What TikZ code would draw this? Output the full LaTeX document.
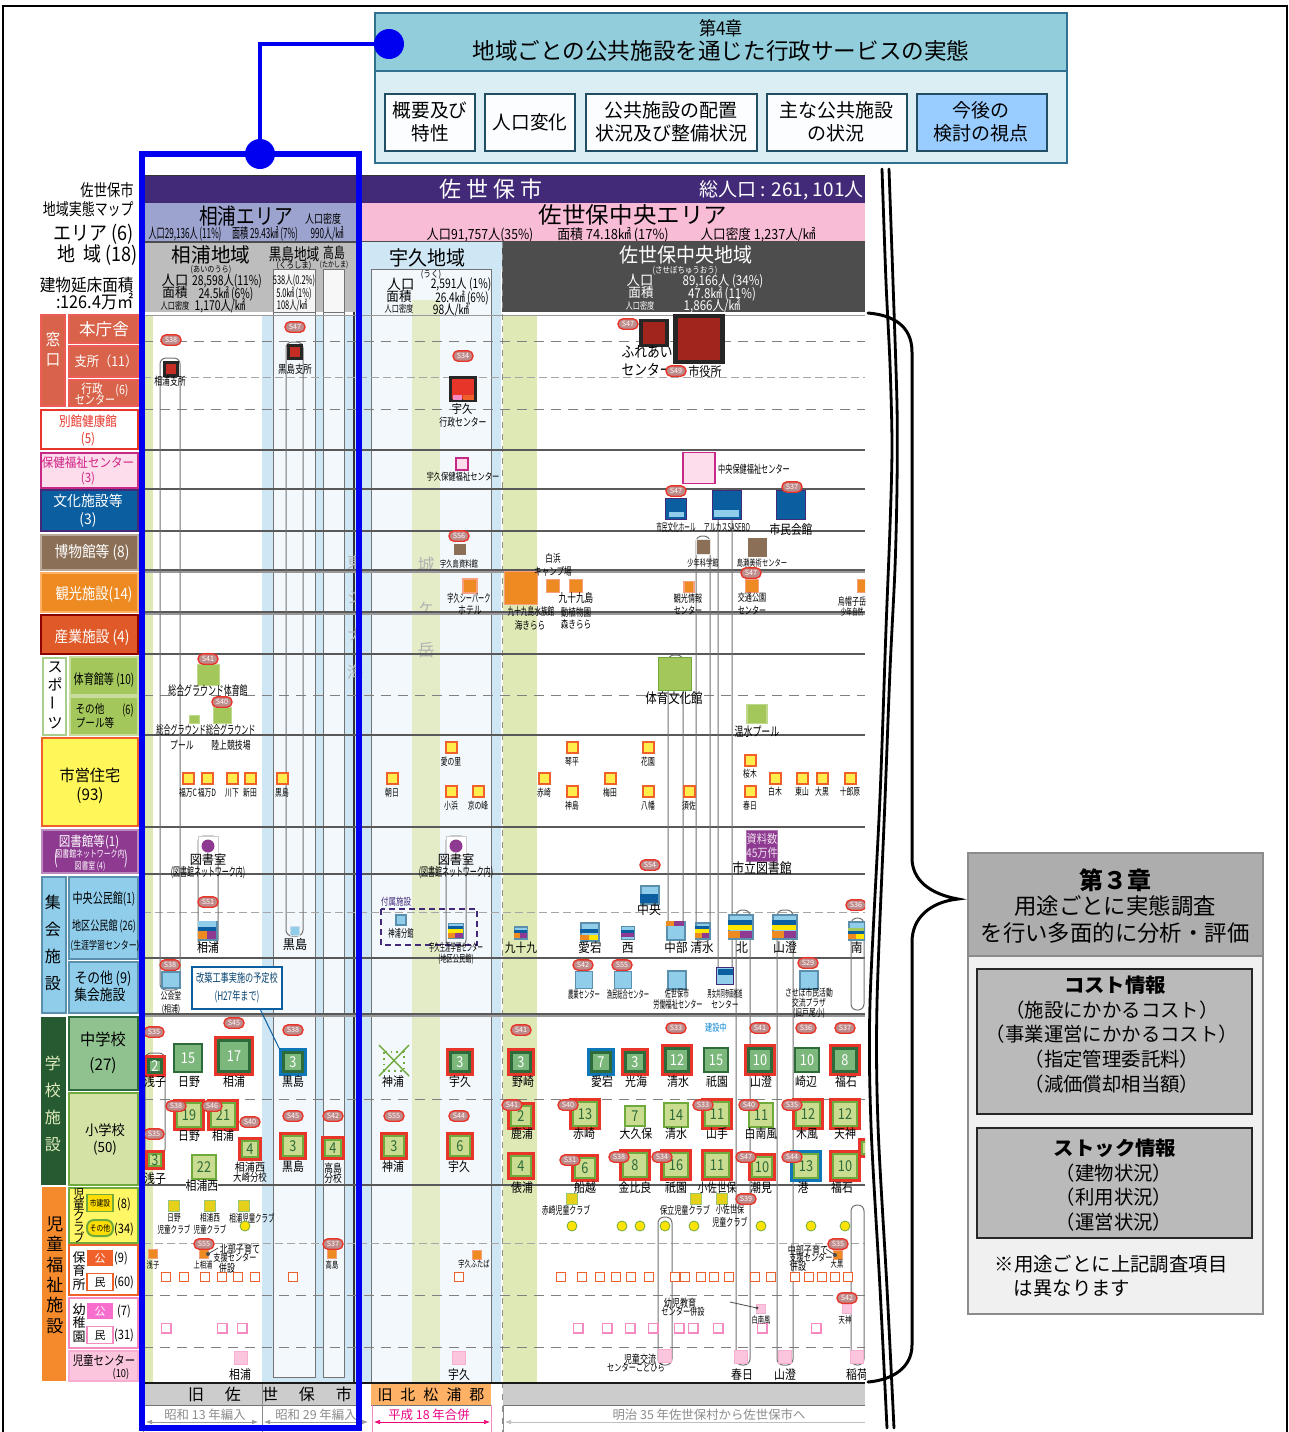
\documentclass[tikz,border=0pt]{standalone}
\usepackage{graphicx}
\usepackage{fontspec}
\setmainfont{Noto Sans CJK JP}
\usetikzlibrary{arrows.meta}
\definecolor{hdr}{HTML}{92CDDC}\definecolor{hdrb}{HTML}{DAEEF3}\definecolor{teal}{HTML}{31708F}
\definecolor{bluey}{HTML}{0000F0}
\definecolor{purp}{HTML}{432A78}\definecolor{areab}{HTML}{9DA3CF}\definecolor{areap}{HTML}{F9BCD6}
\definecolor{grayh}{HTML}{BDBDBD}\definecolor{dgray}{HTML}{4D4D4D}\definecolor{lblue}{HTML}{CFE7F5}
\definecolor{lgreen}{HTML}{DFE9B5}\definecolor{pale}{HTML}{F3F8FC}\definecolor{ukug}{HTML}{E3ECC6}
\definecolor{mfill}{HTML}{7CB77B}\definecolor{mbord}{HTML}{2D6B3A}\definecolor{efill}{HTML}{C9DC8F}\definecolor{ebord}{HTML}{6FAB3C}
\definecolor{rd}{HTML}{E8352A}\definecolor{bl}{HTML}{0F77B8}\definecolor{kb}{HTML}{5B8FAE}\definecolor{kl}{HTML}{8FCDEB}\definecolor{kd}{HTML}{0B5FA0}
\definecolor{korg}{HTML}{EE8A22}\definecolor{kpur}{HTML}{8E3A91}\definecolor{kyel}{HTML}{FFE600}\definecolor{kgrn}{HTML}{A4C75B}
\definecolor{orgb}{HTML}{F0602A}\definecolor{pnkb}{HTML}{F58AC0}\definecolor{pnkf}{HTML}{FBC6DD}
\definecolor{mus}{HTML}{8B6F56}\definecolor{wnd}{HTML}{D9634A}\definecolor{sang}{HTML}{DF5A28}\definecolor{jido}{HTML}{F48A2C}
\newcounter{lb}
\newcommand\lab[6][]{\stepcounter{lb}\node[inner sep=0pt,yshift=-.13*#4 pt,#1] (n\thelb) at (#2,#3) {\fontsize{#4}{\dimexpr#4pt*12/10\relax}\selectfont\scalebox{#5}[1]{\begin{tabular}{@{}c@{}}#6\end{tabular}}};}
\newcommand\bx[5]{\stepcounter{lb}\node[#1,minimum width=#4*.5pt,minimum height=#5*.5pt,inner sep=0pt] (b\thelb) at (#2,#3) {};}
\newcommand\bdg[3]{\stepcounter{lb}\node[draw=rd,fill=white!60!red!50!gray,line width=.7pt,rounded corners=2.5pt,minimum width=10pt,minimum height=5.2pt,inner sep=0pt,text=white] (g\thelb) at (#1,#2) {\fontsize{3.6}{4}\selectfont #3};}
\newcommand\jhs[5]{\stepcounter{lb}\ifx#4n\else\node[draw=#4,line width=1.6pt,fill=mfill,minimum size=#3*.5pt-1.6pt,inner sep=0pt] (o\thelb) at (#1,#2) {};\fi
\node[draw=mbord,line width=1.2pt,fill=mfill,minimum size=#3*.5pt-\ifx#4n 1.2pt\else 4.6pt\fi,inner sep=0pt,text=white] (i\thelb) at (#1,#2) {\fontsize{7.5}{8}\selectfont\scalebox{.85}[1]{#5}};}
\newcommand\els[5]{\stepcounter{lb}\ifx#4n\else\node[draw=#4,line width=1.6pt,fill=efill,minimum size=#3*.5pt-1.6pt,inner sep=0pt] (o\thelb) at (#1,#2) {};\fi
\node[draw=ebord,line width=1pt,fill=efill,minimum size=#3*.5pt-\ifx#4n 1pt\else 4.2pt\fi,inner sep=0pt,text=mbord] (i\thelb) at (#1,#2) {\fontsize{7.5}{8}\selectfont\scalebox{.85}[1]{#5}};}
\newcommand\kom[5]{\stepcounter{lb}\node[draw=kb,fill=kl,line width=.8pt,minimum width=#3*.5pt,minimum height=#4*.5pt,inner sep=0pt] (k\thelb) at (#1,#2) {};
\begin{scope}[shift={(k\thelb.north west)},x=#3*.5pt,y=-#4*.5pt]#5\end{scope}}
\newcommand\st[5]{\fill[#1] (#2,#3) rectangle (#4,#5);}
\tikzset{
 house/.style={draw=orgb,fill=kyel!70!white,line width=1pt},
 hollowo/.style={draw=orgb,fill=white,line width=.8pt},
 hollowp/.style={draw=pnkb,fill=white,line width=.9pt},
 bigp/.style={draw=pnkb!70!white,fill=pnkf,line width=.7pt},
 clubs/.style={draw=ebord!70!white,fill=kyel!80!gray,line width=.6pt},
 orgs/.style={draw=orgb!60!white,fill=korg,line width=.8pt},
 caps/.style={draw=black!55,line width=.5pt,rounded corners=3pt},
 solidrow/.style={draw=black!65,line width=.6pt},
 dashrow/.style={draw=black!50,line width=.45pt,dash pattern=on 5pt off 3.5pt},
 leg/.style={line width=.7pt},
 subb/.style={draw=teal!70!black,line width=.6pt},
 bluestroke/.style={draw=bluey,line width=2.6pt},
 blk/.style={draw=black,line width=1.4pt,line cap=round},
}
\begin{document}
\begin{tikzpicture}[x=.5pt,y=-.5pt,font=\fontsize{6}{7}\selectfont]
\useasboundingbox (0,0) rectangle (1289,1432);
\fill[white] (0,0) rectangle (1289,1432);
\draw[black,line width=.8pt] (3,1432) -- (3,6) -- (1287,6) -- (1287,1432);
% ---------- chapter 4 box
\draw[teal,fill=hdr,line width=.6pt] (375,13) rectangle (1067,71);
\draw[teal,fill=hdrb,line width=.6pt] (375,71) rectangle (1067,163);
\lab{721}{28}{9.5}{.9}{第4章}
\lab{721}{51}{11.3}{1}{地域ごとの公共施設を通じた行政サービスの実態}
\draw[subb,fill=white!90!hdrb] (385,94) rectangle (475,151);
\draw[subb,fill=white!90!hdrb] (485,94) rectangle (575,151);
\draw[subb,fill=white!90!hdrb] (586,94) rectangle (757,151);
\draw[subb,fill=white!90!hdrb] (767,94) rectangle (907,151);
\definecolor{nextb}{HTML}{99CCFF}
\draw[subb,fill=nextb] (917,94) rectangle (1047,151);
\lab{430}{122}{9.5}{.98}{概要及び\\特性}
\lab{530}{122}{9.5}{.98}{人口変化}
\lab{671}{122}{9.5}{1}{公共施設の配置\\状況及び整備状況}
\lab{836}{122}{9.5}{1}{主な公共施設\\の状況}
\lab{981}{122}{9.5}{1}{今後の\\検討の視点}
% ---------- left title
\lab[anchor=east]{134}{190}{8.3}{.8}{佐世保市}
\lab[anchor=east]{134}{209}{8.3}{.78}{地域実態マップ}
\lab[anchor=east]{134}{233}{10}{.9}{エリア (6)}
\lab[anchor=east]{138}{254}{10}{.9}{地\ \ 域 (18)}
\lab[anchor=east]{134}{285}{8.5}{.92}{建物延床面積}
\lab[anchor=east]{134}{302}{8.8}{.92}{:126.4万㎡}
% ---------- legend column
\draw[leg,fill=wnd,draw=rd!80!white] (41,315) rectangle (65,406);
\draw[leg,fill=wnd,draw=rd!80!white] (69,315) rectangle (138,343);
\draw[leg,fill=wnd,draw=rd!80!white] (69,346) rectangle (138,377);
\draw[leg,fill=wnd,draw=rd!80!white] (69,380) rectangle (138,406);
\lab[text=white]{53}{340}{8}{.9}{窓}\lab[text=white]{53}{360}{8}{.9}{口}
\lab[text=white]{104}{329}{8.3}{1}{本庁舎}
\lab[text=white]{106}{361}{6.8}{.9}{支所（11）}
\lab[text=white]{92}{389}{6.3}{.85}{行政}\lab[text=white]{95}{400}{6.3}{.8}{センター}\lab[text=white]{122}{390}{6.3}{.85}{(6)}
\draw[leg,fill=white,draw=rd] (41,410) rectangle (138,449);
\lab[text=rd]{88}{430}{6.8}{.85}{別館健康館\\(5)}
\draw[leg,fill=pnkf!60!white,draw=magenta!80!black] (41,453) rectangle (138,488);
\lab[text=magenta!85!black]{88}{470}{6.4}{.9}{保健福祉センター\\(3)}
\draw[leg,fill=kd,draw=purp] (41,490) rectangle (138,531);
\lab[text=white]{88}{510}{7.3}{.95}{文化施設等\\(3)}
\draw[leg,fill=mus,draw=mus!60!white] (41,535) rectangle (138,570);
\lab[text=white]{92}{552}{7.8}{.88}{博物館等 (8)}
\draw[leg,fill=korg,draw=orange!60!white] (41,573) rectangle (138,612);
\lab[text=white]{94}{594}{7.8}{.85}{観光施設(14)}
\draw[leg,fill=sang,draw=red!55!black] (41,615) rectangle (138,654);
\lab[text=white]{92}{637}{7.8}{.88}{産業施設 (4)}
\draw[leg,fill=white,draw=ebord!60!white] (43,658) rectangle (66,735);
\lab{55}{695}{7.5}{1}{ス\\ポ\\\rotatebox{90}{ー}\\ツ}
\draw[leg,fill=kgrn,draw=kgrn!60!white] (70,657) rectangle (138,695);
\draw[leg,fill=kgrn,draw=kgrn!60!white] (70,697) rectangle (138,735);
\lab{104}{679}{7}{.72}{体育館等 (10)}
\lab{90}{709}{6}{.8}{その他}\lab{95}{723}{6}{.8}{プール等}\lab{128}{710}{6.5}{.7}{(6)}
\draw[leg,fill=yellow!65!white,draw=orgb,line width=1pt] (42,738) rectangle (138,826);
\lab{90}{785}{8}{.95}{市営住宅\\(93)}
\draw[leg,fill=kpur,draw=kpur!60!white] (42,830) rectangle (138,873);
\lab[text=white]{89}{841}{6.8}{.85}{図書館等(1)}
\lab[text=white]{90}{860}{4.8}{.72}{図書館ネットワーク内\\図書室 (4)}
\lab[text=white]{56}{858}{9}{.6}{(}\lab[text=white]{126}{858}{9}{.6}{)}
\draw[leg,fill=kl,draw=kb] (42,877) rectangle (66,1013);
\lab{53}{943}{8}{1}{集\\[4pt]会\\[4pt]施\\[4pt]設}
\draw[leg,fill=kl,draw=kb] (69,877) rectangle (138,959);
\draw[leg,fill=kl,draw=kb] (69,962) rectangle (138,1013);
\lab{104}{898}{7}{.72}{中央公民館(1)}
\lab{104}{926}{6.5}{.7}{地区公民館 (26)}
\lab{105}{945}{5.5}{.72}{(生涯学習センター)}
\lab{103}{978}{7.5}{.85}{その他 (9)}\lab{100}{995}{7.5}{.85}{集会施設}
\fill[mbord!85!black] (41,1017) rectangle (66,1185);
\lab[text=efill!60!white]{53}{1104}{8}{1}{学\\[4pt]校\\[4pt]施\\[4pt]設}
\draw[leg,fill=mfill!85!white,draw=mbord] (69,1017) rectangle (138,1090);
\lab{103}{1052}{8}{.95}{中学校\\[3pt](27)}
\draw[leg,fill=efill!80!white,draw=ebord] (69,1093) rectangle (138,1185);
\lab{105}{1139}{7}{.95}{小学校\\(50)}
\fill[jido] (42,1187) rectangle (66,1381);
\lab{55}{1275}{8.5}{1}{児\\童\\福\\祉\\施\\設}
\draw[leg,fill=yellow!60!white,draw=ebord] (69,1188) rectangle (138,1243);
\lab{79}{1216}{6.2}{.9}{児\\[-2pt]童\\[-2pt]ク\\[-2pt]ラ\\[-2pt]ブ}
\bx{draw=ebord,fill=yellow!80!orange,line width=.9pt}{100}{1203}{26}{17}
\lab{100}{1203}{4.2}{.8}{市建設}
\node[draw=ebord,fill=yellow!80!orange,line width=1pt,rounded corners=3.5pt,minimum width=13pt,minimum height=8pt,inner sep=0pt] (oth) at (100,1228) {\fontsize{4.2}{5}\selectfont\scalebox{.8}[1]{その他}};
\lab{124}{1204}{6.5}{.85}{(8)}\lab{124}{1229}{6.5}{.85}{(34)}
\draw[leg,fill=white,draw=orgb,line width=1pt] (69,1245) rectangle (138,1295);
\lab{79}{1271}{6.5}{1}{保\\[-1pt]育\\[-1pt]所}
\bx{fill=orgb}{100}{1258}{26}{16}\lab[text=white]{100}{1258}{5.5}{1}{公}
\bx{draw=orgb,fill=white,line width=.6pt}{100}{1282}{26}{17}\lab{100}{1282}{5.5}{1}{民}
\lab{121}{1258}{6.5}{.85}{(9)}\lab{124}{1282}{6.5}{.85}{(60)}
\draw[leg,fill=white,draw=pnkb,line width=1pt] (69,1298) rectangle (138,1348);
\lab{79}{1323}{6.5}{1}{幼\\[-1pt]稚\\[-1pt]園}
\bx{fill=pnkb!80!magenta}{100}{1311}{26}{16}\lab[text=white]{100}{1311}{5.5}{1}{公}
\bx{draw=pnkb,fill=white,line width=.6pt}{100}{1335}{26}{17}\lab{100}{1335}{5.5}{1}{民}
\lab{124}{1311}{6.5}{.85}{(7)}\lab{124}{1335}{6.5}{.85}{(31)}
\draw[leg,fill=pnkf,draw=pnkb!70!white] (69,1351) rectangle (138,1381);
\lab{104}{1361}{6.5}{.8}{児童センター}\lab{121}{1373}{5.5}{.85}{(10)}
% ---------- main chart, clipped on its right edge
\begin{scope}
\clip (143,170) rectangle (865,1432);
\fill[white] (143,312) rectangle (865,1383);
% bands
\fill[lgreen] (143,315) rectangle (153,1383);
\fill[lblue] (262,315) rectangle (354,1383);
\draw[draw=black!55,fill=pale,line width=.5pt] (273,269) rectangle (315,1377);
\draw[draw=black!55,fill=pale,line width=.5pt] (323,269) rectangle (344,1377);
\fill[lblue] (354,242) rectangle (501,1383);
\draw[draw=black!55,fill=pale,line width=.5pt] (371,269) rectangle (491,1383);
\fill[ukug] (412,300) rectangle (440,1383);
\fill[lgreen] (503,315) rectangle (537,1383);
\draw[black!80,line width=.6pt] (354,242) -- (354,1383);
% header bands
\fill[purp] (143,175) rectangle (865,203);
\draw[black!80,line width=.5pt] (143,175) -- (865,175);
\lab[text=white]{491}{189}{11}{1}{佐 世 保 市}
\lab[text=white,anchor=east]{864}{189}{9.5}{1}{総人口 : 261, 101人}
\fill[areab] (143,203) rectangle (356,242);
\fill[areap] (361,203) rectangle (865,242);
\lab{246}{216}{11}{.85}{相浦エリア}
\lab{323}{219}{6}{.75}{人口密度}
\lab{185}{233}{7}{.58}{人口29,136人 (11\%)}
\lab{265}{233}{7}{.58}{面積 29.43㎢ (7\%)}
\lab{327}{233}{7}{.58}{990人/㎢}
\lab{633}{215}{11.3}{1.04}{佐世保中央エリア}
\lab{480}{234}{7}{.87}{人口91,757人(35\%)}
\lab{613}{234}{7}{.92}{面積 74.18㎢ (17\%)}
\lab{758}{234}{7}{.9}{人口密度 1,237人/㎢}
\fill[grayh] (143,242) rectangle (356,312);
\draw[black!70,line width=.6pt] (143,242) -- (865,242);
\fill[dgray] (502,242) rectangle (865,312);
\fill[lblue] (361,242) rectangle (502,269);
\draw[draw=black!55,fill=white!85!grayh,line width=.5pt] (273,269) rectangle (315,312);
\draw[draw=black!55,fill=white!88!grayh,line width=.5pt] (323,269) rectangle (344,312);
\lab{211}{255}{10}{.98}{相浦地域}
\lab{294}{254}{8.3}{.76}{黒島地域}
\lab{334}{253}{7.5}{.72}{高島}
\lab{211}{269}{4.2}{.85}{(あいのうら)}
\lab{294}{265}{4.4}{.85}{(くろしま)}
\lab{334}{265}{4}{.75}{(たかしま)}
\lab{175}{280}{7}{.95}{人口}\lab{175}{293}{6.6}{.95}{面積}\lab{175}{306}{4.8}{.75}{人口密度}
\lab{227}{280}{6.8}{.76}{28,598人(11\%)}
\lab{226}{293}{6.8}{.76}{24.5㎢ (6\%)}
\lab{220}{305}{6.8}{.76}{1,170人/㎢}
\lab{294}{280}{6}{.62}{538人(0.2\%)}
\lab{294}{293}{6}{.62}{5.0㎢ (1\%)}
\lab{292}{305}{6}{.62}{108人/㎢}
\lab{427}{258}{10}{.95}{宇久地域}
\lab{431}{274}{4.5}{.85}{(うく)}
\lab{401}{284}{7}{.95}{人口}\lab{399}{297}{6.6}{.95}{面積}\lab{399}{309}{4.8}{.75}{人口密度}
\lab{461}{284}{6.6}{.78}{2,591人 (1\%)}
\lab{462}{297}{6.6}{.76}{26.4㎢ (6\%)}
\lab{451}{309}{6.6}{.78}{98人/㎢}
\lab[text=white]{686}{255}{10}{.95}{佐世保中央地域}
\lab[text=white]{685}{270}{4.4}{.85}{(させぼちゅうおう)}
\lab[text=white]{640}{280}{7}{.95}{人口}\lab[text=white]{641}{293}{6.6}{.95}{面積}\lab[text=white]{640}{306}{4.8}{.75}{人口密度}
\lab[text=white]{723}{280}{6.8}{.85}{89,166人 (34\%)}
\lab[text=white]{722}{293}{6.8}{.85}{47.8㎢ (11\%)}
\lab[text=white]{712}{305}{6.8}{.85}{1,866人/㎢}
\draw[black!40,line width=.5pt] (143,315) -- (865,315);
\draw[black!45,line width=.5pt,dashed] (502,242) -- (502,1432);
% sea and mountain names
\foreach \ch/\yy in {東/562,シ/598,ナ/635,海/672}{\node[text=black!30,inner sep=0pt] at (355,\yy) {\fontsize{8}{8}\selectfont\ch};}
\foreach \ch/\yy in {城/565,ヶ/608,岳/650}{\node[text=black!30,inner sep=0pt] at (426,\yy) {\fontsize{8.5}{9}\selectfont\ch};}
% rows
\foreach \yy in {450,489,531,570,612,654,735,827,874,958,1014,1185}{\draw[solidrow] (143,\yy) -- (865,\yy);}
\foreach \yy in {572,614,1016}{\draw[solidrow,draw=black!40] (143,\yy) -- (865,\yy);}
\foreach \yy in {341,409,695,1099,1295,1347}{\draw[dashrow] (143,\yy) -- (865,\yy);}
\foreach \yy in {377,912,1243}{\draw[dashrow,draw=black!35,dash pattern=on 4pt off 2pt] (143,\yy) -- (865,\yy);}
\draw[black!90,line width=.6pt] (143,1383) -- (865,1383);
% capsules
\draw[caps] (160,358) rectangle (180,990);
\draw[caps] (286,342) rectangle (303,936);
\draw[caps] (198,836) rectangle (218,946);
\draw[caps] (446,836) rectangle (466,946);
\draw[caps] (145,1053) rectangle (165,1155);
\draw[caps] (668,655) rectangle (683,928);
\draw[caps] (696,536) rectangle (710,942);
\draw[caps] (718,490) rectangle (732,980);
\draw[caps] (736,910) rectangle (750,1365);
\draw[caps] (777,910) rectangle (793,1365);
\draw[caps] (851,918) rectangle (864,1010);
\draw[caps] (851,1205) rectangle (864,1365);
\draw[caps] (658,1217) rectangle (672,1365);
% window row
\bx{draw=black!85,fill=rd!85!black,line width=1.6pt}{171}{369}{13}{13}
\lab{170}{381}{5.6}{.7}{相浦支所}\bdg{171}{340}{S38}
\bx{draw=black!85,fill=rd!85!black,line width=1.6pt}{295}{352}{13}{13}
\lab{295}{369}{5.6}{.75}{黒島支所}\bdg{295}{327}{S47}
\bx{draw=black!85,fill=rd,line width=1.6pt}{463}{389}{25}{23}
\fill[pnkb] (453,395) rectangle (462,400);\fill[orgb] (463,395) rectangle (474,400);
\lab{462}{409}{6}{.85}{宇久}\lab{463}{422}{5.6}{.7}{行政センター}\bdg{463}{356}{S34}
\bx{draw=black!85,fill=rd!70!black,line width=1.8pt}{654}{333}{26}{25}
\bx{draw=black!85,fill=rd!70!black,line width=2.2pt}{699}{339}{47}{46}
\lab{647}{361}{7.5}{.85}{ふれあい\\センター}\bdg{628}{324}{S47}
\lab{705}{372}{6.5}{.85}{市役所}\bdg{676}{371}{S49}
% health
\bx{draw=magenta!80!black,fill=pnkf!60!white,line width=.9pt}{462}{464}{12}{12}
\lab{463}{477}{5}{.73}{宇久保健福祉センター}
\bx{draw=magenta!80!black,fill=pnkf!60!white,line width=.9pt}{699}{468}{32}{31}
\lab{754}{469}{5.6}{.64}{中央保健福祉センター}
% culture
\bx{draw=purp,fill=kd,line width=.7pt}{676}{509}{21}{21}\fill[kl] (669,512) rectangle (684,517);\lab{676}{527}{5.4}{.52}{市民文化ホール}\bdg{676}{491}{S47}
\bx{draw=purp,fill=kd,line width=.7pt}{727}{505}{29}{29}\fill[kl] (714,510) rectangle (739,517);\lab{727}{527}{5.4}{.55}{アルカスSASEBO}
\bx{draw=purp,fill=kd,line width=.7pt}{791}{505}{29}{29}\lab{791}{530}{6.5}{.82}{市民会館}\bdg{792}{487}{S37}
% museum
\bx{fill=mus}{460}{549}{12}{11}\lab{459}{564}{4.6}{.68}{宇久島資料館}\bdg{459}{536}{S56}
\bx{draw=white!80!gray,fill=mus}{703}{547}{14}{15}\lab{703}{563}{4.6}{.68}{少年科学館}
\bx{fill=mus}{757}{547}{19}{19}\lab{762}{563}{4.6}{.68}{島瀬美術センター}
% tourism
\bx{orgs}{521}{588}{33}{33}\lab{531}{611}{5.4}{.62}{九十九島水族館}\lab{530}{625}{5.4}{.7}{海きらら}
\bx{orgs}{553}{586}{13}{13}\lab{553}{558}{5.4}{.7}{白浜}\lab{553}{571}{5.4}{.7}{キャンプ場}
\bx{orgs}{576}{586}{13}{13}\lab{576}{598}{6}{.72}{九十九島}\lab{576}{612}{5.4}{.7}{動植物園}\lab{576}{624}{5.4}{.7}{森きらら}
\bx{orgs}{689}{587}{10}{11}\lab{688}{599}{5.2}{.68}{観光情報}\lab{688}{611}{5.2}{.68}{センター}
\bx{orgs}{752}{586}{13}{13}\lab{752}{598}{5.2}{.68}{交通公園}\lab{752}{611}{5.2}{.68}{センター}\bdg{751}{573}{S47}
\bx{orgs}{864}{586}{13}{13}\lab{852}{602}{5.2}{.68}{烏帽子岳}\lab{852}{612}{4.6}{.6}{少年自然}
\bx{orgs}{470}{586}{14}{14}\lab{469}{598}{5.6}{.55}{宇久シーパーク}\lab{470}{610}{5.6}{.7}{ホテル}
% sports
\bx{draw=kgrn!70!white,fill=kgrn,line width=.5pt}{208}{675}{22}{21}\lab{208}{691}{6.4}{.62}{総合グラウンド体育館}\bdg{208}{659}{S41}
\bx{draw=kgrn!70!white,fill=kgrn,line width=.5pt}{222}{715}{18}{16}\bdg{222}{702}{S40}
\bx{draw=kgrn!70!white,fill=kgrn,line width=.5pt}{194}{719}{10}{8}
\lab{206}{730}{6}{.59}{総合グラウンド総合グラウンド}\lab{182}{745}{5.6}{.7}{プール}\lab{231}{745}{5.6}{.7}{陸上競技場}
\bx{draw=ebord,fill=kgrn,line width=.9pt}{675}{674}{33}{33}\lab{674}{698}{7}{.82}{体育文化館}
\bx{draw=kgrn!70!white,fill=kgrn,line width=.8pt}{757}{714}{20}{19}\lab{757}{732}{6.4}{.7}{温水プール}
% housing
\foreach \hx/\hy/\hn/\ly in {188/778/福万C/793,207/778/福万D/793,232/778/川下/793,250/778/新田/793,282/778/黒島/793,392/778/朝日/793,451/747/愛の里/762,451/791/小浜/806,478/791/京の峰/806,544/778/赤崎/793,572/747/琴平/762,572/791/神島/806,610/778/梅田/793,648/747/花園/762,648/791/八幡/806,689/791/須佐/806,750/760/桜木/774,750/791/春日/806,775/778/白木/792,802/778/東山/792,822/778/大黒/792,850/778/十郎原/792}{
 \node[house,minimum size=5.5pt,inner sep=0pt] at (\hx,\hy) {};
 \node[inner sep=0pt] at (\hx,\ly) {\fontsize{5}{6}\selectfont\scalebox{.68}[1]{\hn}};}
% libraries
\draw[draw=white!60!gray,fill=white,line width=.4pt] (198,836) rectangle (218,858);
\draw[draw=white!60!gray,fill=white,line width=.4pt] (446,836) rectangle (466,858);
\fill[kpur] (208,846) circle (6.5);\fill[kpur] (456,846) circle (6.5);
\lab{208}{860}{6.4}{.95}{図書室}\lab{208}{872}{6}{.58}{(図書館ネットワーク内)}
\lab{456}{860}{6.4}{.95}{図書室}\lab{456}{872}{6}{.58}{(図書館ネットワーク内)}
\bx{draw=kpur!70!white,fill=kpur,line width=.4pt}{762}{846}{31}{31}
\lab[text=white!85!kpur]{762}{846}{6}{.85}{資料数\\45万件}
\lab{762}{868}{7}{.85}{市立図書館}
\bdg{650}{865}{S54}
% community centres
\kom{208}{931}{18}{18}{\st{kl}{0}{0}{1}{.3}\st{kd}{0}{.3}{1}{.55}\st{korg}{0}{.55}{.5}{1}\st{kpur}{.5}{.55}{1}{1}}
\lab{208}{948}{6.4}{.85}{相浦}\bdg{208}{902}{S51}
\bx{draw=white!70!kb,fill=kl,line width=.4pt}{295}{931}{9}{9}\lab{295}{945}{6.6}{.92}{黒島}
\lab[text=purp]{396}{902}{5}{.75}{付属施設}
\draw[purp,line width=.8pt,dash pattern=on 3pt off 2pt] (381,909) rectangle (477,945);
\kom{401}{920}{10}{10}{}\lab{401}{933}{5.4}{.58}{神浦分館}
\kom{456}{931}{15}{15}{\st{kd}{0}{.25}{1}{.45}\st{kyel}{0}{.45}{1}{.7}\st{korg}{0}{.7}{.5}{1}\st{kpur}{.5}{.7}{1}{1}}
\lab{456}{947}{5.4}{.5}{宇久生涯学習センター}\lab{456}{959}{5}{.62}{(地区公民館)}
\kom{650}{895}{18}{18}{\st{kd}{0}{.5}{1}{1}}\lab{649}{910}{6.6}{.9}{中央}
\kom{521}{933}{13}{12}{\st{kd}{0}{.3}{1}{.55}\st{korg}{0}{.6}{.5}{1}\st{kpur}{.5}{.6}{1}{1}}\lab{521}{948}{6.3}{.85}{九十九}
\kom{590}{932}{18}{18}{\st{kd}{0}{.4}{1}{.6}\st{korg}{0}{.7}{.5}{1}\st{kyel}{.5}{.7}{1}{1}}\lab{590}{948}{6.4}{.9}{愛宕}
\kom{628}{933}{13}{13}{\st{kd}{0}{.35}{1}{.55}\st{kpur}{0}{.55}{1}{.85}}\lab{628}{948}{6.4}{.9}{西}
\kom{676}{931}{18}{18}{\st{korg}{0}{0}{.45}{.25}\st{kpur}{.45}{0}{1}{.25}}\lab{676}{948}{6.4}{.9}{中部}
\kom{703}{931}{14}{16}{\st{kd}{0}{.25}{1}{.4}\st{kyel}{0}{.45}{1}{.65}\st{korg}{0}{.7}{.5}{1}\st{kpur}{.5}{.7}{1}{1}}\lab{702}{948}{6.4}{.9}{清水}
\kom{741}{927}{24}{24}{\st{kd}{0}{.25}{1}{.45}\st{kyel}{0}{.47}{1}{.67}\st{korg}{0}{.7}{.5}{1}\st{kpur}{.5}{.7}{1}{1}}\lab{742}{948}{6.6}{.9}{北}
\kom{785}{927}{24}{24}{\st{kd}{0}{.25}{1}{.45}\st{kyel}{0}{.47}{1}{.67}\st{korg}{0}{.7}{.5}{1}\st{kpur}{.5}{.7}{1}{1}}\lab{785}{948}{6.6}{.9}{山澄}
\kom{857}{931}{16}{18}{\st{kgrn}{0}{.35}{1}{.55}\st{kd}{0}{.55}{1}{.7}\st{korg}{0}{.7}{.5}{1}\st{kyel}{.5}{.7}{1}{1}}\lab{857}{948}{6.4}{.9}{南}\bdg{856}{905}{S36}
% other assembly halls
\kom{171}{980}{18}{16}{}\lab{171}{996}{4.8}{.72}{公会堂}\lab{171}{1009}{4.8}{.72}{(相浦)}\bdg{170}{965}{S38}
\kom{584}{980}{17}{17}{}\lab{584}{995}{5.3}{.5}{農業センター}\bdg{583}{965}{S42}
\kom{623}{980}{17}{17}{}\lab{628}{995}{5.3}{.5}{漁民総合センター}\bdg{622}{965}{S55}
\kom{677}{980}{18}{18}{}\lab{677}{994}{5.3}{.57}{佐世保市}\lab{678}{1005}{5.3}{.58}{労働福祉センター}
\bx{draw=purp,fill=kl,line width=.8pt}{725}{976}{17}{17}\fill[kd] (717.5,968.5) rectangle (732.5,975);\lab{725}{994}{5}{.44}{男女共同参画推進}\lab{725}{1005}{5}{.68}{センター}
\kom{809}{980}{18}{18}{}\lab{809}{993}{5}{.68}{させぼ市民活動}\lab{809}{1003}{5}{.68}{交流プラザ}\lab{809}{1013}{5}{.68}{(旧戸尾小)}\bdg{808}{963}{S29}
% middle schools
\jhs{155}{1066}{22}{rd}{2}\lab{155}{1082}{6.4}{.85}{浅子}\bdg{154}{1032}{S35}
\jhs{188}{1058}{30}{n}{15}\lab{189}{1082}{6.4}{.85}{日野}
\jhs{234}{1056}{40}{rd}{17}\lab{234}{1082}{6.4}{.85}{相浦}\bdg{234}{1023}{S45}
\jhs{293}{1062}{28}{bl}{3}\lab{293}{1082}{6.4}{.85}{黒島}\bdg{293}{1030}{S38}
\draw[ebord,line width=.9pt,dotted] (384,1052) rectangle (404,1071);
\draw[ebord,line width=.7pt] (379,1045) -- (409,1076) (409,1045) -- (379,1076);
\lab{393}{1082}{6.4}{.85}{神浦}
\jhs{460}{1062}{28}{rd}{3}\lab{460}{1082}{6.4}{.85}{宇久}
\jhs{521}{1062}{28}{rd}{3}\lab{523}{1082}{6.4}{.85}{野崎}\bdg{521}{1030}{S41}
\jhs{601}{1062}{28}{bl}{7}\lab{602}{1082}{6.4}{.85}{愛宕}
\jhs{635}{1062}{28}{rd}{3}\lab{636}{1082}{6.4}{.85}{光海}
\jhs{677}{1060}{32}{rd}{12}\lab{678}{1082}{6.4}{.85}{清水}\bdg{676}{1028}{S33}
\jhs{716}{1060}{26}{n}{15}\lab{717}{1082}{6.4}{.85}{祇園}
\lab[text=cyan!70!blue]{716}{1028}{5}{.72}{建設中}
\jhs{760}{1060}{32}{rd}{10}\lab{761}{1082}{6.4}{.85}{山澄}\bdg{760}{1028}{S41}
\jhs{807}{1060}{26}{n}{10}\lab{806}{1082}{6.4}{.85}{崎辺}\bdg{806}{1028}{S36}
\jhs{845}{1060}{32}{rd}{8}\lab{846}{1082}{6.4}{.85}{福石}\bdg{845}{1028}{S37}
% elementary schools
\els{189}{1115}{32}{rd}{19}\lab{189}{1136}{6.4}{.85}{日野}\bdg{176}{1106}{S38}
\els{223}{1115}{32}{rd}{21}\lab{223}{1136}{6.4}{.85}{相浦}\bdg{212}{1106}{S46}
\els{250}{1149}{24}{rd}{4}\lab{250}{1167}{5.6}{.9}{相浦西}\lab{250}{1177}{5.4}{.78}{大崎分校}\bdg{250}{1122}{S40}
\els{155}{1160}{20}{rd}{3}\lab{155}{1179}{6.4}{.85}{浅子}\bdg{154}{1134}{S35}
\els{204}{1167}{26}{n}{22}\lab[fill=white]{202}{1186}{6.4}{.85}{相浦西}
\els{293}{1146}{28}{rd}{3}\lab{293}{1167}{6.4}{.85}{黒島}\bdg{293}{1116}{S45}
\els{333}{1148}{24}{rd}{4}\lab{333}{1168}{5.6}{.78}{高島}\lab{333}{1178}{5.6}{.78}{分校}\bdg{333}{1116}{S42}
\els{394}{1146}{28}{rd}{3}\lab{393}{1167}{6.4}{.85}{神浦}\bdg{394}{1116}{S55}
\els{460}{1146}{28}{rd}{6}\lab{459}{1167}{6.4}{.85}{宇久}\bdg{459}{1116}{S44}
\els{521}{1116}{28}{rd}{2}\lab{522}{1134}{6.4}{.85}{鹿浦}\bdg{512}{1105}{S41}
\els{585}{1114}{32}{rd}{13}\lab{584}{1134}{6.4}{.85}{赤崎}\bdg{568}{1105}{S40}
\els{635}{1116}{22}{n}{7}\lab{636}{1134}{6.4}{.85}{大久保}
\els{676}{1115}{26}{n}{14}\lab{676}{1134}{6.4}{.85}{清水}
\els{717}{1114}{32}{rd}{11}\lab{717}{1134}{6.4}{.85}{山手}\bdg{703}{1105}{S33}
\els{761}{1115}{26}{n}{11}\lab{761}{1134}{6.4}{.85}{白南風}\bdg{749}{1105}{S40}
\els{808}{1114}{32}{rd}{12}\lab{807}{1134}{6.4}{.85}{木風}\bdg{792}{1105}{S35}
\els{845}{1114}{32}{rd}{12}\lab{845}{1134}{6.4}{.85}{天神}
\els{521}{1166}{28}{rd}{4}\lab{522}{1188}{6.4}{.85}{俵浦}
\els{585}{1168}{28}{rd}{6}\lab{585}{1188}{6.4}{.85}{船越}\bdg{570}{1160}{S31}
\els{635}{1165}{32}{rd}{8}\lab{635}{1188}{6.4}{.85}{金比良}\bdg{619}{1157}{S38}
\els{676}{1165}{32}{rd}{16}\lab{676}{1188}{6.4}{.85}{祇園}\bdg{662}{1157}{S34}
\els{717}{1165}{32}{rd}{11}\lab{717}{1188}{6.4}{.75}{小佐世保}
\els{762}{1167}{28}{rd}{10}\lab{761}{1188}{6.4}{.85}{潮見}\bdg{746}{1157}{S47}
\els{806}{1166}{32}{bl}{13}\lab{803}{1188}{6.4}{.85}{港}\bdg{792}{1157}{S44}
\els{845}{1166}{32}{rd}{10}\lab{842}{1188}{6.4}{.85}{福石}
\els{868}{1148}{20}{rd}{}
% children's clubs
\foreach \cx in {174,210,244,572,696,722}{\node[clubs,minimum size=5.5pt,inner sep=0pt] at (\cx,\ifnum\cx<300 1206\else 1199\fi) {};}
\lab{174}{1224}{5}{.66}{日野\\児童クラブ}
\lab{210}{1224}{5}{.66}{相浦西\\児童クラブ}
\lab{252}{1218}{5.4}{.6}{相浦児童クラブ}
\lab{566}{1210}{5.4}{.64}{赤崎児童クラブ}
\lab{685}{1210}{5.4}{.66}{保立児童クラブ}
\lab{730}{1216}{5.4}{.65}{小佐世保\\児童クラブ}
\bdg{746}{1199}{S39}
\foreach \cx in {245,572,622,640,665,694,761,811,845}{\fill[yellow!85!orange,draw=ebord,line width=.4pt] (\cx,1226) circle (5);}
% nurseries
\bx{orgs}{153}{1254}{9}{9}\lab{153}{1265}{4.6}{.68}{浅子}
\bx{orgs}{204}{1254}{9}{9}\lab{203}{1265}{4.6}{.68}{上相浦}\bdg{204}{1244}{S55}
\fill[black!70] (208,1254) circle (2);\draw[black!70,line width=.4pt] (208,1254) -- (218,1248);
\lab{240}{1249}{5.6}{.72}{北部子育て}\lab{235}{1258}{5}{.72}{支援センター}\lab{227}{1268}{5.6}{.72}{併設}
\bx{orgs}{332}{1254}{9}{9}\lab{332}{1265}{4.6}{.68}{高島}\bdg{333}{1244}{S37}
\bx{orgs}{477}{1255}{9}{9}\lab{474}{1264}{4.6}{.68}{宇久ふたば}
\bx{orgs}{838}{1255}{9}{9}\lab{837}{1264}{4.6}{.68}{大黒}\bdg{838}{1244}{S35}
\fill[black!70] (835,1255) circle (2);\draw[black!70,line width=.4pt] (835,1255) -- (826,1249);
\lab{808}{1250}{5.6}{.72}{中部子育て}\lab{811}{1258}{5}{.72}{支援センター}\lab{798}{1266}{5.6}{.72}{併設}
\foreach \hx in {166,184,205,222,238,255,293,459,561,582,600,616,631,649,675,685,701,714,729,755,771,795,809,822,835,848}{\node[hollowo,minimum size=4.6pt,inner sep=0pt] at (\hx,1277) {};}
% kindergartens
\foreach \hx in {166,222,242,578,607,630,653,679,693,718,762,816}{\node[hollowp,minimum size=4.6pt,inner sep=0pt] at (\hx,1328) {};}
\bx{bigp}{761}{1309}{9}{9}\lab{761}{1320}{4.6}{.68}{白南風}
\bx{bigp}{847}{1309}{9}{9}\lab{845}{1320}{4.6}{.68}{天神}\bdg{847}{1298}{S42}
\lab{680}{1303}{5.6}{.72}{幼児教育}\lab{683}{1312}{5}{.72}{センター併設}
\draw[black!70,line width=.4pt] (730,1302) -- (757,1308);\fill[black!70] (757,1308) circle (1.6);
% children centres
\bx{bigp}{241}{1358}{13}{13}\lab{240}{1375}{6.4}{.85}{相浦}
\bx{bigp}{459}{1358}{13}{13}\lab{459}{1375}{6.4}{.85}{宇久}
\bx{bigp}{665}{1356}{13}{13}\lab{640}{1359}{5.6}{.72}{児童交流}\lab{636}{1368}{5}{.72}{センターこどひら}
\bx{bigp}{741}{1357}{13}{13}\lab{742}{1375}{6.4}{.85}{春日}
\bx{bigp}{785}{1357}{13}{13}\lab{785}{1375}{6.4}{.85}{山澄}
\bx{bigp}{857}{1357}{13}{13}\lab{857}{1375}{6.4}{.85}{稲荷}
% footer
\fill[black!20] (143,1384) rectangle (361,1405);
\fill[orange!60!white] (371,1384) rectangle (491,1405);
\fill[black!20] (503,1384) rectangle (865,1405);
\draw[black!55,line width=.4pt] (143,1405) -- (361,1405) (371,1405) -- (491,1405) (503,1405) -- (865,1405);
\lab{270}{1395}{8}{1}{旧\hspace{10.5pt}佐\hspace{10.5pt}世\hspace{10.5pt}保\hspace{10.5pt}市}
\lab{431}{1395}{7.5}{1}{旧\hspace{4pt}北\hspace{4pt}松\hspace{4pt}浦\hspace{4pt}郡}
\lab[text=black!45]{205}{1415}{6.2}{1}{昭和 13 年編入}
\lab[text=black!45]{316}{1415}{6.2}{1}{昭和 29 年編入}
\lab[text=magenta!90!red]{429}{1415}{6.2}{1}{平成 18 年合併}
\lab[text=black!45]{709}{1415}{6.2}{1}{明治 35 年佐世保村から佐世保市へ}
\draw[black!40,line width=.3pt,{Latex[length=3pt]}-{Latex[length=3pt]}] (146,1422) -- (258,1422);
\draw[black!40,line width=.3pt,{Latex[length=3pt]}-{Latex[length=3pt]}] (264,1422) -- (368,1422);
\draw[magenta!80!red,line width=.3pt,{Latex[length=3pt]}-{Latex[length=3pt]}] (374,1422) -- (490,1422);
\draw[black!25,line width=.3pt,{Latex[length=3pt]}-] (505,1422) -- (865,1422);
\draw[black!45,line width=.4pt] (143,1405) -- (143,1432) (262,1384) -- (262,1432) (503,1405) -- (503,1432);
\draw[pnkb,line width=.4pt] (372,1405) -- (372,1432) (491,1405) -- (491,1432);
\end{scope}
% callout
\node[draw=kd,fill=white,line width=.8pt,minimum width=45pt,minimum height=21pt,inner sep=0pt,text=kd!70!black] (call) at (237,988) {\fontsize{6}{9}\selectfont\scalebox{.68}[1]{\begin{tabular}{@{}c@{}}改築工事実施の予定校\\(H27年まで)\end{tabular}}};
\coordinate (kuroshima) at (280,1050);
\draw[kd,line width=.5pt] (260,1009) -- (kuroshima);
% blue highlight and connection
\node[draw=none,fill=bluey,circle,minimum size=15pt,inner sep=0pt] (dotA) at (389,44) {};
\node[draw=none,fill=bluey,circle,minimum size=15pt,inner sep=0pt] (dotB) at (260,154) {};
\draw[bluestroke,line width=2.4pt] (dotA) -- (260,44) -- (dotB);
\draw[bluestroke] (142,154) rectangle (359,1428);
% wavy double break lines
\draw[blk] plot[smooth] coordinates {(882,169)(886,282)(890,364)(892,446)(890,527)(886,629)(880,797)(870,1003)(871,1125)(880,1288)(887,1428)};
\draw[blk] plot[smooth] coordinates {(889,169)(893,282)(897,405)(897,487)(895,568)(890,670)(885,800)(877,1003)(878,1125)(887,1288)(894,1428)};
% brace
\draw[blk,line width=1.5pt] (868,313) .. controls (892,315) and (912,325) .. (912,352) -- (912,858) .. controls (912,880) and (930,894) .. (958,899) .. controls (930,902) and (912,918) .. (912,942) -- (912,1345) .. controls (912,1368) and (892,1380) .. (868,1382);
% chapter 3 box
\draw[draw=black!45,fill=black!6,line width=.6pt] (968,853) rectangle (1263,1314);
\draw[draw=black!45,fill=black!32,line width=.6pt] (968,853) rectangle (1263,956);
\lab{1115}{880}{12}{1}{\textbf{第３章}}
\lab{1115}{906}{11.2}{1}{用途ごとに実態調査}
\lab{1115}{933}{11.2}{1}{を行い多面的に分析・評価}
\draw[draw=black!85,fill=black!27,line width=.6pt] (977,969) rectangle (1252,1114);
\draw[draw=black!85,fill=black!27,line width=.6pt] (977,1128) rectangle (1252,1238);
\lab{1115}{985}{9.7}{1.05}{\textbf{コスト情報}}
\lab{1112}{1010}{9.7}{1}{（施設にかかるコスト）}
\lab{1112}{1034}{9.7}{1}{（事業運営にかかるコスト）}
\lab{1112}{1059}{9.7}{1}{（指定管理委託料）}
\lab{1112}{1084}{9.7}{1}{（減価償却相当額）}
\lab{1115}{1148}{9.7}{1.05}{\textbf{ストック情報}}
\lab{1114}{1173}{9.7}{1}{（建物状況）}
\lab{1114}{1197}{9.7}{1}{（利用状況）}
\lab{1114}{1222}{9.7}{1}{（運営状況）}
\lab{1111}{1264}{9.7}{1}{※用途ごとに上記調査項目}
\lab{1072}{1288}{9.7}{1}{は異なります}
\end{tikzpicture}
\end{document}
